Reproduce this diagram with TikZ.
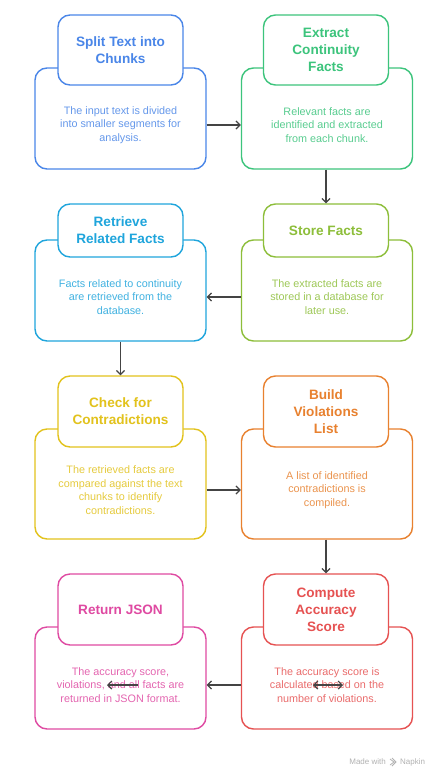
\documentclass[tikz,border=0pt]{standalone}
\usepackage{fontspec}
\setmainfont{Liberation Sans}
\usetikzlibrary{arrows.meta}
\definecolor{cblue}{HTML}{4A86E8}
\definecolor{cgreen}{HTML}{3CC47C}
\definecolor{ccyan}{HTML}{1FA5DC}
\definecolor{clime}{HTML}{8DBE3A}
\definecolor{cyellow}{HTML}{E2C21C}
\definecolor{corange}{HTML}{E8812F}
\definecolor{cred}{HTML}{E65252}
\definecolor{cpink}{HTML}{DF4AA2}
\definecolor{carrow}{HTML}{444444}
\tikzset{
  bodybox/.style={draw=#1, line width=1.4pt, fill=white, rounded corners=12pt, minimum width=171pt, minimum height=101pt, inner sep=0pt},
  titlebox/.style={draw=#1, line width=1.4pt, fill=white, rounded corners=12pt, minimum width=125pt, inner sep=0pt, text=#1, font=\fontsize{13.6}{17}\selectfont\bfseries, align=center},
  bodytext/.style={text=#1!85!white, font=\fontsize{10.8}{13.6}\selectfont, align=center, inner sep=0pt},
  arr/.style={draw=carrow, line width=1.2pt, -{Straight Barb[length=4pt,width=8pt]}},
  darr/.style={draw=carrow, line width=1.2pt, {Straight Barb[length=4pt,width=8pt]}-{Straight Barb[length=4pt,width=8pt]}},
  foot/.style={text=black!30, font=\fontsize{8}{10}\selectfont, inner sep=0pt}
}
\begin{document}
\begin{tikzpicture}[x=1pt,y=-1pt]
\useasboundingbox[fill=white] (0,0) rectangle (447,782);
% row 1
\node[bodybox=cblue, minimum height=101pt] (b1) at (120.5,118.5) {};
\node[titlebox=cblue, minimum height=70pt] (t1) at (120.5,50) {Split Text into\\Chunks};
\node[bodytext=cblue] (d1) at (120.5,125) {The input text is divided\\into smaller segments for\\analysis.};
\node[bodybox=cgreen, minimum height=101pt] (b2) at (327,118.5) {};
\node[titlebox=cgreen, minimum height=70pt] (t2) at (326,50) {Extract\\Continuity\\Facts};
\node[bodytext=cgreen] (d2) at (327,125) {Relevant facts are\\identified and extracted\\from each chunk.};
% row 2
\node[bodybox=ccyan, minimum height=101pt] (b3) at (120.5,290.5) {};
\node[titlebox=ccyan, minimum height=53pt] (t3) at (120.5,230.5) {Retrieve\\Related Facts};
\node[bodytext=ccyan] (d3) at (120.5,297) {Facts related to continuity\\are retrieved from the\\database.};
\node[bodybox=clime, minimum height=101pt] (b4) at (327,290.5) {};
\node[titlebox=clime, minimum height=53pt] (t4) at (326,230.5) {Store Facts};
\node[bodytext=clime] (d4) at (327,297) {The extracted facts are\\stored in a database for\\later use.};
% row 3
\node[bodybox=cyellow, minimum height=110pt] (b5) at (120.5,484) {};
\node[titlebox=cyellow, minimum height=71pt] (t5) at (120.5,411.5) {Check for\\Contradictions};
\node[bodytext=cyellow] (d5) at (120.5,490) {The retrieved facts are\\compared against the text\\chunks to identify\\contradictions.};
\node[bodybox=corange, minimum height=110pt] (b6) at (327,484) {};
\node[titlebox=corange, minimum height=71pt] (t6) at (326,411.5) {Build\\Violations\\List};
\node[bodytext=corange] (d6) at (327,490) {A list of identified\\contradictions is\\compiled.};
% row 4
\node[bodybox=cpink, minimum height=102pt] (b7) at (120.5,678) {};
\node[titlebox=cpink, minimum height=71pt] (t7) at (120.5,609.5) {Return JSON};
\node[bodytext=cpink] (d7) at (120.5,685) {The accuracy score,\\violations, and all facts are\\returned in JSON format.};
\node[bodybox=cred, minimum height=102pt] (b8) at (327,678) {};
\node[titlebox=cred, minimum height=71pt] (t8) at (326,609.5) {Compute\\Accuracy\\Score};
\node[bodytext=cred] (d8) at (327,685) {The accuracy score is\\calculated based on the\\number of violations.};
% connectors
\draw[arr] (b1.east |- d1) -- (b2.west |- d1);
\draw[arr] (b2.south -| t2) -- (t4.north);
\draw[arr] (b4.west |- d4) -- (b3.east |- d4);
\draw[arr] (b3.south) -- (t5.north);
\draw[arr] (b5.east |- d5) -- (b6.west |- d5);
\draw[arr] (b6.south -| t6) -- (t8.north);
\draw[arr] (b8.west |- d8) -- (b7.east |- d8);
% stray arrows inside texts
\coordinate (sa1) at (138,685);
\coordinate (sa2) at (107,685);
\draw[arr] (sa1) -- (sa2);
\coordinate (sb1) at (313,685);
\coordinate (sb2) at (343,685);
\draw[darr] (sb1) -- (sb2);
% footer
\node[foot, anchor=east] (fa) at (386,762) {Made with};
\node[foot, anchor=west] (fb) at (400,762) {Napkin};
\coordinate (lg) at (393,762);
\draw[black!30, line width=0.8pt] ([xshift=-3pt,yshift=-3pt]lg) -- ([xshift=1pt]lg) -- ([xshift=-3pt,yshift=3pt]lg)
  ([xshift=-1pt,yshift=-4pt]lg) -- ([xshift=3pt]lg) -- ([xshift=-1pt,yshift=4pt]lg);
\end{tikzpicture}
\end{document}
